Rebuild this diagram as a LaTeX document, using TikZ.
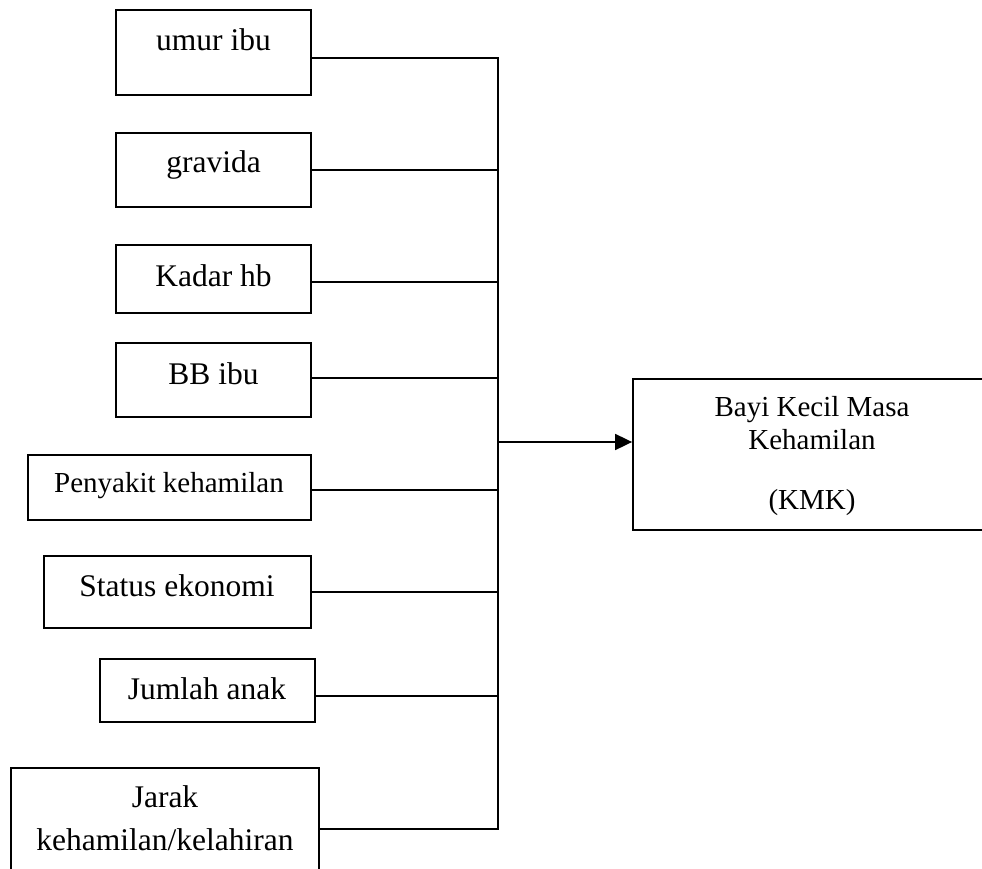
\documentclass[tikz,border=0pt]{standalone}
\usepackage{fontspec}
\setmainfont{Liberation Serif}
\usetikzlibrary{arrows.meta}
\begin{document}
\begin{tikzpicture}[x=1pt,y=-1pt,
  box/.style={draw, line width=1.8pt, rectangle, inner sep=0pt},
  lbl/.style={anchor=base, inner sep=0pt, font=\fontsize{31.5}{38}\selectfont},
  lblsm/.style={anchor=base, inner sep=0pt, font=\fontsize{29}{35}\selectfont},
  wire/.style={line width=1.8pt},
]
\useasboundingbox (0,0) rectangle (982,869);
\clip (0,0) rectangle (982,869);

% factor boxes
\node[box, minimum width=195pt, minimum height=85pt]  (b1) at (213.5,52.5) {};
\node[box, minimum width=195pt, minimum height=74pt]  (b2) at (213.5,170) {};
\node[box, minimum width=195pt, minimum height=68pt]  (b3) at (213.5,279) {};
\node[box, minimum width=195pt, minimum height=74pt]  (b4) at (213.5,380) {};
\node[box, minimum width=283pt, minimum height=65pt]  (b5) at (169.5,487.5) {};
\node[box, minimum width=267pt, minimum height=72pt]  (b6) at (177.5,592) {};
\node[box, minimum width=215pt, minimum height=63pt]  (b7) at (207.5,690.5) {};
\node[box, minimum width=308pt, minimum height=122pt] (b8) at (165,829) {};

% outcome box
\node[box, minimum width=358pt, minimum height=151pt] (main) at (812,454.5) {};

% labels
\node[lbl]   (t1) at (213.5,50.7) {umur ibu};
\node[lbl]   (t2) at (213.5,173) {gravida};
\node[lbl]   (t3) at (213.5,286) {Kadar hb};
\node[lbl]   (t4) at (213.5,384) {BB ibu};
\node[lblsm] (t5) at (169,492) {Penyakit kehamilan};
\node[lbl]   (t6) at (177,596) {Status ekonomi};
\node[lbl]   (t7) at (207,699) {Jumlah anak};
\node[lbl]   (t8a) at (165,807) {Jarak};
\node[lbl]   (t8b) at (165,850) {kehamilan/kelahiran};
\node[lblsm] (m1) at (812,416) {Bayi Kecil Masa};
\node[lblsm] (m2) at (812,449) {Kehamilan};
\node[lblsm] (m3) at (812,509) {(KMK)};

% connector start points on the factor boxes
\coordinate (c1) at ([yshift=-5.5pt]b1.east);
\coordinate (c2) at (b2.east);
\coordinate (c3) at ([yshift=-3pt]b3.east);
\coordinate (c4) at ([yshift=2pt]b4.east);
\coordinate (c5) at ([yshift=-2.5pt]b5.east);
\coordinate (c6) at (b6.east);
\coordinate (c7) at ([yshift=-5.5pt]b7.east);
\coordinate (c8) at (b8.east);
\coordinate (bustop) at (498,0);
\coordinate (target) at ([yshift=12.5pt]main.west);

% collecting bus
\draw[wire] (c1) -- (c1 -| bustop) -- (c8 -| bustop) -- (c8);
\foreach \c in {c2,c3,c4,c5,c6,c7}
  \draw[wire] (\c) -- (\c -| bustop);

% arrow to the outcome
\draw[wire, -{Triangle[length=17pt,width=16pt]}] (target -| bustop) -- (target);
\end{tikzpicture}
\end{document}
